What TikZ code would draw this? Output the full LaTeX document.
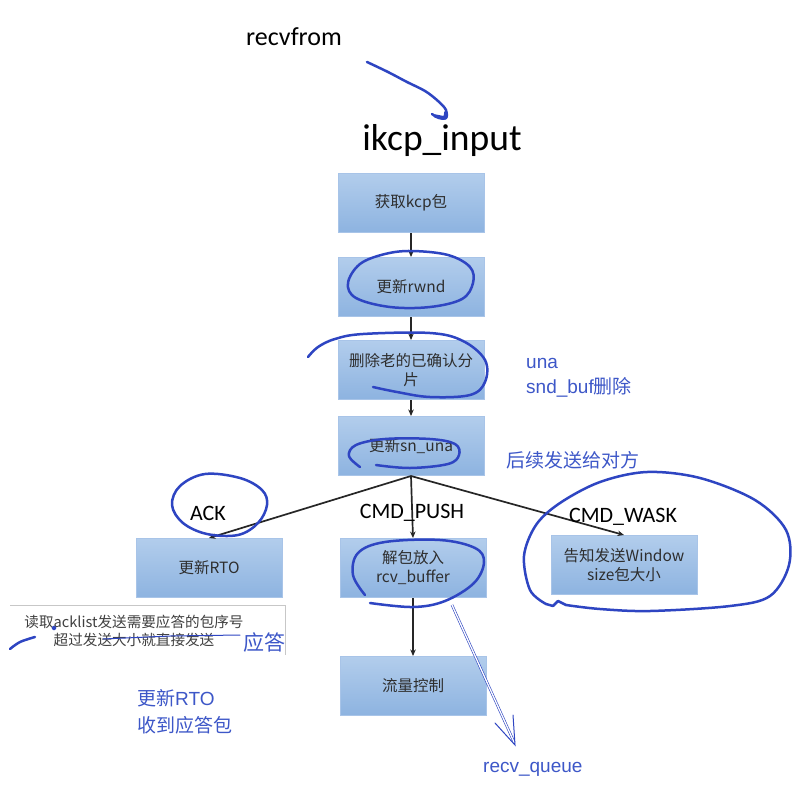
\documentclass[tikz,border=0pt]{standalone}
\usepackage{fontspec}
\setmainfont{Carlito}
\newfontfamily\cjk{Noto Sans CJK SC}
\newfontfamily\lat{Liberation Sans}
\usetikzlibrary{arrows.meta}
\definecolor{hand}{HTML}{2E45C2}
\definecolor{anno}{HTML}{3D57C8}
\definecolor{boxtop}{HTML}{B2CDEC}
\definecolor{boxbot}{HTML}{8DB3E0}
\definecolor{boxline}{HTML}{A8C4E8}
\definecolor{boxtext}{HTML}{2E2E2E}
\tikzset{
  flowbox/.style={rectangle, top color=boxtop, bottom color=boxbot, draw=boxline, line width=1pt,
    minimum width=146pt, minimum height=59pt, text width=134pt, align=center, inner sep=0pt,
    text=boxtext, font=\cjk\fontsize{15.5}{19}\selectfont},
  flowarrow/.style={-{Stealth[length=6.5pt,width=5.5pt]}, line width=1.7pt, draw=black!85},
  lbl/.style={font=\fontsize{22}{24}\selectfont, inner sep=0pt},
  annot/.style={text=anno, anchor=base west, inner sep=0pt, font=\fontsize{19}{22}\selectfont},
  hand/.style={draw=hand, line width=2.5pt, line cap=round, line join=round},
}
\begin{document}
\begin{tikzpicture}[x=1pt,y=-1pt]
\useasboundingbox[fill=white] (0,0) rectangle (801,788);

% titles
\node[font=\fontsize{26}{29}\selectfont, inner sep=0pt] (recv) at (294,37) {recvfrom};
\node[font=\fontsize{37.5}{40}\selectfont, inner sep=0pt] (ikcp) at (442,140) {ikcp\_input};

% boxes
\node[flowbox] (b1) at (411,203) {获取kcp包};
\node[flowbox] (b2) at (411,287) {更新rwnd};
\node[flowbox] (b3) at (411,370) {删除老的已确认分\\片};
\node[flowbox] (b4) at (411,446) {更新sn\_una};
\node[flowbox] (rto) at (209,568) {更新RTO};
\node[flowbox] (push) at (413,568) {解包放入\\rcv\_buffer};
\node[flowbox] (wask) at (624,565) {告知发送Window\\size包大小};
\node[flowbox] (flow) at (413,686) {流量控制};

% arrows
\draw[flowarrow] (b1) -- (b2);
\draw[flowarrow] (b2) -- (b3);
\draw[flowarrow] (b3) -- (b4);
\draw[flowarrow] (b4.south) -- (rto.north);
\draw[flowarrow] (b4.south) -- (push.north);
\draw[flowarrow] (b4.south) -- (wask.north);
\draw[flowarrow] (push) -- (flow);

% branch labels
\node[lbl] (lack) at (208,513) {ACK};
\node[lbl] (lpush) at (412,513) {CMD\_PUSH};
\node[lbl] (lwask) at (623,517) {CMD\_WASK};

% ack list annotation box
\node[inner sep=0pt, align=center, text=black!75, font=\cjk\fontsize{14.6}{18}\selectfont] (ackbox) at (134,631)
  {读取acklist发送需要应答的包序号\\超过发送大小就直接发送};
\draw[black!22, line width=0.8pt] (10,605) -- (285,605) -- (285,655);

% blue annotations
\node[annot] (una) at (526,368) {\lat una};
\node[annot] (sndbuf) at (526,393) {\lat snd\_buf\cjk 删除};
\node[annot] (follow) at (506,467) {\cjk 后续发送给对方};
\node[annot, font=\cjk\fontsize{21}{24}\selectfont] (ans) at (243,650) {应答};
\node[annot] (rto2) at (137,705) {\cjk 更新\lat RTO};
\node[annot] (gotack) at (137,732) {\cjk 收到应答包};
\node[annot] (rq) at (483,772) {\lat recv\_queue};

% handwritten strokes
\draw[hand] plot[smooth, tension=0.6] coordinates {(367,62) (388,72) (407,82) (425,91) (438,101) (446,110) (446,118) (439,118) (432,114)};
\draw[hand, line width=3.4pt] (446,112) -- (445,118) -- (435,116);

\draw[hand] plot[smooth cycle, tension=0.6] coordinates {(412,251) (448,255) (470,267) (473,283) (462,299) (430,307) (390,307) (356,298) (348,283) (360,264) (385,254)};

\draw[hand] plot[smooth, tension=0.6] coordinates {(308,357) (318,347) (335,339) (363,334) (430,333) (463,341) (485,360) (485,382) (470,395) (430,397) (397,392) (373,387)};

\draw[hand] plot[smooth, tension=0.6] coordinates {(360,467) (349,456) (356,445) (385,439) (430,439) (455,444) (459,455) (448,464) (410,468) (376,465)};

\draw[hand] plot[smooth cycle, tension=0.6] coordinates {(172,505) (180,486) (205,474) (240,478) (262,490) (267,505) (258,523) (238,535) (207,534) (183,523)};

\draw[hand] plot[smooth, tension=0.6] coordinates {(365,595) (353,575) (358,553) (385,542) (440,540) (475,548) (484,562) (474,583) (445,601) (413,607) (370,603)};

\draw[hand] plot[smooth, tension=0.55] coordinates {(566,605) (600,609) (650,611) (730,606) (770,596) (789,565) (786,530) (755,500) (700,478) (647,472) (600,482) (560,503) (536,525) (524,556) (530,590) (546,604)};
\draw[hand] (546,604) -- (553,606) -- (558,601) -- (566,605);

\draw[hand] plot[smooth, tension=0.6] coordinates {(10,649) (20,642) (35,637)};
\draw[hand, line width=1pt] (103,639) -- (170,636) -- (240,635);
\fill[hand] (54,628) circle (1.2pt);

% recv_queue arrow
\draw[draw=hand, line width=0.6pt, double=white, double distance=1.3pt] (452,605) -- (514,742);
\draw[draw=hand, line width=1pt, line cap=round] (495,723) -- (515,745) -- (513,715);
\end{tikzpicture}
\end{document}
